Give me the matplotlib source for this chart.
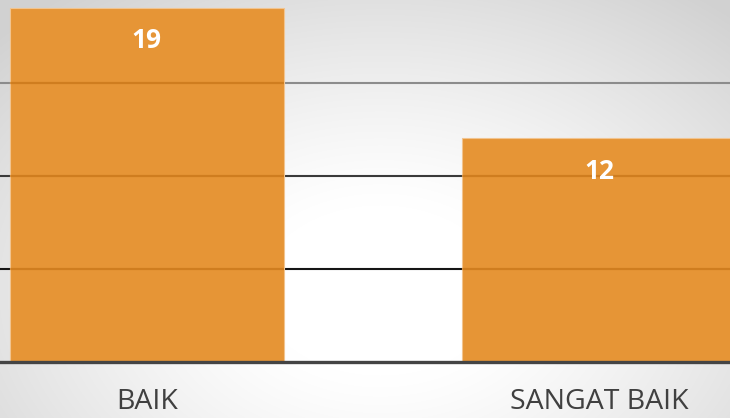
import numpy as np
import matplotlib
matplotlib.use("Agg")
import matplotlib.pyplot as plt

# data
categories = ["BAIK", "SANGAT BAIK"]
values = [19, 12]
grid_levels = [5, 10, 15]
grid_colors = ["#151515", "#3a3a3a", "#8c8c8c"]

bar_color = "#E69536"

fig = plt.figure(figsize=(7.30, 4.18), dpi=100)

# radial gradient background
bg = fig.add_axes([0, 0, 1, 1], zorder=-10)
yy, xx = np.mgrid[0:418, 0:730]
r = np.sqrt(((xx - 380) / 480.0) ** 2 + ((yy - 290) / 340.0) ** 2)
shade = 1.0 - 0.22 * np.clip(r - 0.25, 0, None) ** 1.2
shade = np.clip(shade, 0.82, 1.0)
bg.imshow(np.dstack([shade, shade, shade]), aspect="auto", interpolation="bilinear")
bg.axis("off")

ax = fig.add_axes([0, 56 / 418, 1, 362 / 418])
ax.patch.set_alpha(0)

x = np.arange(len(categories))
width = 0.606
bars = ax.bar(x, values, width=width, color=bar_color, edgecolor="#f2c48f",
              linewidth=0.8, zorder=2)

# grid lines: solid behind, tinted over the bars
for lvl, c in zip(grid_levels, grid_colors):
    ax.axhline(lvl, color=c, lw=1.5, zorder=1)
    for b in bars:
        if b.get_height() > lvl:
            ax.plot([b.get_x(), b.get_x() + b.get_width()], [lvl, lvl],
                    color="#c06e10", lw=1.6, alpha=0.6, zorder=3,
                    solid_capstyle="butt")

for xi, v in zip(x, values):
    ax.annotate(str(v), (xi, v), xytext=(0, -23.5), textcoords="offset points",
                ha="center", va="center", color="white", fontsize=19,
                fontweight="bold", family="Open Sans", zorder=4)

ax.set_xlim(-0.325, 1.290)
ax.set_ylim(0, 19.43)
ax.set_yticks([])
ax.set_xticks(x)
ax.set_xticklabels(categories, fontsize=20.5, color="#404040", family="Open Sans")
ax.tick_params(axis="x", length=0, pad=19)
for s in ["top", "right", "left"]:
    ax.spines[s].set_visible(False)
ax.spines["bottom"].set_color("#444444")
ax.spines["bottom"].set_linewidth(2.4)
ax.spines["bottom"].set_zorder(5)

fig.savefig("out.png", dpi=100)
